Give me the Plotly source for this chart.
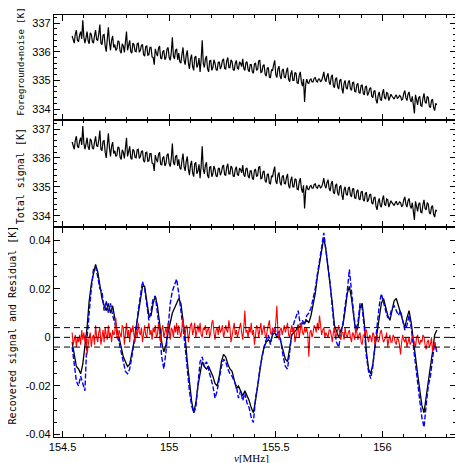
"""Foreground, total signal and recovered 21-cm signal vs frequency."""

import numpy as np
import plotly.graph_objects as go
from plotly.subplots import make_subplots

# frequency channels [MHz]
CHAN_START = 154.545
FINE_WIDTH = 0.005   # raw channels (foreground, residual)
COARSE_WIDTH = 0.01  # smoothed signal curves

# foreground + noise [K], one row per 0.05 MHz
foreground_noise = [
    336.55, 336.42, 336.30, 336.62, 336.75, 336.40, 336.35, 336.58, 336.70, 336.45,
    337.10, 336.52, 336.30, 336.48, 336.70, 336.38, 336.28, 336.66, 336.60, 336.35,
    336.30, 336.55, 336.75, 336.42, 336.40, 336.62, 336.95, 336.30, 336.25, 336.58,
    336.60, 336.20, 336.00, 336.45, 336.85, 336.35, 336.05, 336.40, 336.55, 336.15,
    336.25, 336.05, 336.10, 336.38, 336.35, 336.02, 335.95, 336.28, 336.20, 335.98,
    336.45, 336.70, 336.05, 336.22, 336.40, 336.00, 335.95, 336.30, 336.25, 336.02,
    336.00, 336.28, 336.30, 335.98, 336.05, 336.22, 336.25, 335.90, 335.85, 336.18,
    336.20, 335.88, 335.90, 336.15, 336.15, 335.82, 335.80, 335.55, 336.10, 335.95,
    335.85, 336.12, 336.20, 335.78, 335.75, 336.00, 336.05, 335.72, 335.80, 336.10,
    336.15, 335.80, 335.70, 335.98, 336.50, 335.85, 335.75, 336.05, 336.10, 335.72,
    335.95, 335.65, 335.60, 335.92, 336.15, 335.70, 335.55, 335.88, 336.05, 335.62,
    335.40, 335.75, 335.90, 335.48, 335.35, 335.80, 335.85, 335.45, 335.55, 335.78,
    335.30, 335.72, 336.40, 335.60, 335.45, 335.75, 335.85, 335.40, 335.30, 335.68,
    335.70, 335.35, 335.45, 335.72, 335.60, 335.38, 335.35, 335.62, 335.65, 335.40,
    335.50, 335.70, 335.75, 335.42, 335.40, 335.68, 335.80, 335.45, 335.45, 335.72,
    335.65, 335.38, 335.35, 335.60, 335.70, 335.42, 335.40, 335.65, 335.60, 335.48,
    335.75, 335.42, 335.35, 335.62, 335.65, 335.38, 335.30, 335.55, 335.55, 335.30,
    335.25, 335.58, 335.60, 335.35, 335.40, 335.68, 335.70, 335.28, 335.30, 335.52,
    335.55, 335.22, 335.15, 335.42, 335.45, 335.12, 335.10, 335.38, 335.35, 335.55,
    335.70, 335.20, 335.10, 335.40, 335.50, 335.15, 335.05, 335.35, 335.40, 335.12,
    335.10, 335.32, 335.45, 335.05, 334.95, 335.22, 335.35, 335.00, 335.00, 335.28,
    335.25, 334.92, 334.90, 335.18, 335.30, 334.95, 334.80, 335.05, 334.25, 334.85,
    335.05, 334.92, 334.90, 335.02, 335.05, 334.95, 334.95, 335.08, 335.10, 334.98,
    334.95, 335.05, 335.05, 334.95, 335.00, 335.12, 335.30, 335.05, 334.95, 335.15,
    335.25, 334.95, 334.85, 335.12, 335.20, 334.82, 334.75, 335.05, 335.10, 334.78,
    334.70, 335.00, 335.05, 334.72, 334.55, 334.90, 335.00, 334.75, 334.70, 334.95,
    335.00, 334.72, 334.65, 334.92, 334.95, 334.62, 334.60, 334.85, 334.90, 334.58,
    334.55, 334.82, 334.85, 334.55, 334.50, 334.78, 334.80, 334.48, 334.55, 334.72,
    334.75, 334.45, 334.40, 334.62, 334.65, 334.32, 334.20, 334.48, 334.60, 334.35,
    334.30, 334.55, 334.70, 334.40, 334.35, 334.58, 334.55, 334.30, 334.40, 334.52,
    334.45, 334.38, 334.35, 334.45, 334.50, 334.38, 334.40, 334.48, 334.45, 334.32,
    334.35, 334.55, 334.65, 334.40, 334.30, 334.52, 334.60, 334.35, 334.25, 334.45,
    334.20, 333.85, 334.50, 334.30, 334.15, 334.40, 334.45, 334.12, 334.10, 334.38,
    334.55, 334.25, 334.20, 334.45, 334.40, 334.10, 334.05, 334.30, 334.35, 334.05,
    333.95, 334.20, 334.15,
]
# total signal: foreground + noise + 21-cm signal (identical at this scale)
total_signal = list(foreground_noise)

# input 21-cm signal [K]
signal_in = [
    -0.002, -0.007, -0.012, -0.013, -0.015, -0.011, -0.004, 0.004, 0.015, 0.022,
    0.026, 0.030, 0.027, 0.021, 0.016, 0.013, 0.011, 0.014, 0.010, 0.013,
    0.008, 0.003, 0.000, -0.004, -0.008, -0.010, -0.012, -0.011, -0.007, -0.002,
    0.004, 0.010, 0.017, 0.021, 0.021, 0.015, 0.009, 0.009, 0.014, 0.017,
    0.013, 0.006, -0.002, -0.006, -0.003, 0.002, 0.006, 0.010, 0.012, 0.014,
    0.016, 0.014, 0.008, 0.000, -0.010, -0.019, -0.026, -0.031, -0.027, -0.020,
    -0.014, -0.010, -0.012, -0.013, -0.012, -0.014, -0.016, -0.019, -0.020, -0.016,
    -0.010, -0.007, -0.008, -0.011, -0.013, -0.014, -0.017, -0.021, -0.020, -0.022,
    -0.024, -0.022, -0.024, -0.026, -0.029, -0.031, -0.026, -0.019, -0.014, -0.008,
    -0.004, -0.002, -0.001, -0.002, 0.001, 0.002, 0.000, 0.001, -0.002, -0.006,
    -0.009, -0.010, -0.004, 0.001, 0.002, 0.003, 0.005, 0.004, 0.006, 0.006,
    0.007, 0.006, 0.009, 0.013, 0.018, 0.025, 0.031, 0.036, 0.041, 0.036,
    0.029, 0.023, 0.014, 0.005, 0.002, 0.000, 0.003, 0.005, 0.011, 0.018,
    0.021, 0.016, 0.009, 0.002, 0.004, 0.012, 0.014, 0.006, -0.006, -0.013,
    -0.015, -0.011, -0.004, 0.002, 0.008, 0.014, 0.016, 0.012, 0.009, 0.007,
    0.011, 0.015, 0.016, 0.013, 0.010, 0.006, 0.004, 0.008, 0.011, 0.006,
    -0.002, -0.008, -0.015, -0.022, -0.028, -0.031, -0.024, -0.018, -0.012, -0.006,
    0.001, 0.003,
]

# recovered signal [K]
signal_rec = [
    -0.004, -0.010, -0.018, -0.020, -0.016, -0.019, -0.022, 0.000, 0.012, 0.020,
    0.028, 0.029, 0.025, 0.020, 0.019, 0.011, 0.015, 0.010, 0.014, 0.009,
    0.006, 0.002, -0.002, -0.006, -0.011, -0.014, -0.015, -0.013, -0.008, -0.003,
    0.003, 0.011, 0.018, 0.023, 0.020, 0.013, 0.007, 0.011, 0.016, 0.017,
    0.011, 0.003, -0.008, -0.013, -0.006, 0.003, 0.014, 0.019, 0.022, 0.024,
    0.018, 0.012, 0.004, -0.004, -0.014, -0.022, -0.028, -0.031, -0.029, -0.018,
    -0.010, -0.008, -0.012, -0.010, -0.013, -0.017, -0.020, -0.025, -0.022, -0.017,
    -0.012, -0.009, -0.010, -0.013, -0.015, -0.016, -0.018, -0.020, -0.025, -0.022,
    -0.026, -0.023, -0.027, -0.029, -0.033, -0.035, -0.025, -0.020, -0.013, -0.008,
    -0.004, -0.001, 0.001, -0.003, 0.002, 0.004, 0.001, 0.003, -0.003, -0.008,
    -0.012, -0.013, -0.006, 0.002, 0.006, 0.009, 0.011, 0.005, 0.007, 0.005,
    0.009, 0.010, 0.012, 0.016, 0.020, 0.026, 0.031, 0.037, 0.043, 0.036,
    0.028, 0.022, 0.012, 0.003, -0.002, -0.004, 0.001, 0.006, 0.013, 0.019,
    0.028, 0.018, 0.010, 0.003, 0.006, 0.014, 0.012, 0.004, -0.008, -0.014,
    -0.017, -0.012, -0.003, 0.006, 0.013, 0.018, 0.014, 0.011, 0.008, 0.009,
    0.012, 0.013, 0.011, 0.009, 0.011, 0.007, 0.003, 0.005, 0.009, 0.004,
    -0.004, -0.010, -0.018, -0.026, -0.033, -0.037, -0.028, -0.020, -0.016, -0.008,
    -0.002, -0.006,
]

# residual [K], raw channels
residual = [
    0.002, -0.003, -0.001, 0.001, -0.004, 0.000, -0.002, 0.001, -0.003, 0.003,
    -0.001, 0.002, -0.002, 0.001, -0.007, -0.002, 0.000, 0.002, -0.004, 0.000,
    0.001, -0.003, 0.005, 0.000, -0.002, 0.002, 0.004, -0.003, 0.000, 0.003,
    -0.002, 0.004, 0.001, -0.001, 0.005, 0.000, 0.002, -0.002, 0.003, 0.001,
    0.002, 0.008, 0.000, -0.001, 0.003, 0.001, 0.000, 0.005, 0.004, -0.003,
    0.002, 0.006, 0.000, 0.003, -0.002, 0.004, 0.002, 0.005, 0.001, -0.002,
    0.003, 0.000, 0.006, 0.002, 0.001, 0.004, -0.002, 0.003, 0.005, 0.001,
    0.000, 0.004, 0.006, 0.001, 0.003, -0.001, 0.004, 0.002, 0.005, 0.000,
    0.001, 0.006, 0.003, -0.002, 0.003, 0.005, 0.000, 0.002, 0.004, 0.001,
    0.006, 0.003, -0.001, 0.004, 0.003, 0.000, 0.005, 0.002, 0.006, 0.001,
    0.005, 0.002, 0.000, 0.004, 0.008, 0.002, 0.001, 0.005, 0.004, -0.002,
    0.002, 0.005, 0.006, 0.001, 0.003, 0.006, 0.000, 0.003, 0.005, 0.002,
    0.006, 0.001, 0.000, 0.004, 0.003, 0.005, 0.001, 0.003, 0.004, 0.000,
    0.002, 0.006, 0.007, 0.002, -0.001, 0.003, 0.004, 0.001, 0.005, 0.002,
    0.003, 0.005, 0.000, 0.002, 0.005, 0.003, 0.002, 0.007, 0.004, -0.002,
    0.001, 0.004, 0.006, 0.001, 0.003, 0.000, 0.002, 0.005, 0.006, 0.002,
    -0.001, 0.004, 0.011, 0.002, 0.003, 0.000, 0.004, 0.002, 0.006, 0.001,
    0.003, -0.003, 0.002, 0.005, 0.004, 0.000, 0.003, 0.006, 0.001, 0.004,
    0.005, 0.001, 0.000, 0.003, 0.005, 0.007, 0.002, 0.001, 0.004, 0.003,
    0.002, 0.006, 0.013, 0.002, -0.001, 0.003, 0.004, 0.001, 0.003, 0.005,
    0.002, 0.005, 0.006, 0.001, 0.000, 0.003, 0.005, 0.002, 0.004, -0.002,
    0.001, 0.004, 0.005, 0.000, 0.003, 0.006, 0.002, 0.001, 0.004, 0.002,
    0.004, 0.001, -0.008, 0.002, 0.003, 0.000, 0.002, 0.005, 0.004, 0.002,
    0.006, 0.003, 0.009, 0.004, 0.001, 0.003, 0.004, 0.000, 0.002, 0.001,
    0.000, 0.003, 0.003, 0.001, -0.002, 0.002, 0.004, 0.000, 0.001, 0.003,
    0.005, 0.001, -0.001, 0.002, 0.002, -0.001, 0.004, 0.001, 0.000, 0.002,
    0.003, 0.000, -0.002, 0.002, 0.001, -0.001, 0.004, 0.002, -0.001, 0.001,
    0.002, -0.002, -0.003, 0.001, 0.001, 0.003, 0.003, 0.000, -0.002, 0.001,
    0.000, -0.002, 0.002, 0.001, -0.003, 0.000, 0.001, -0.002, -0.001, 0.002,
    0.003, 0.000, -0.002, -0.001, 0.000, 0.002, -0.004, -0.001, 0.001, -0.002,
    -0.002, 0.001, 0.000, -0.002, -0.003, 0.000, -0.001, -0.003, -0.007, -0.002,
    0.001, -0.001, -0.002, 0.000, -0.004, -0.002, 0.000, -0.003, -0.002, 0.001,
    -0.001, -0.003, -0.004, 0.000, 0.001, -0.002, -0.003, -0.001, -0.002, 0.001,
    0.000, -0.003, -0.005, -0.002, -0.001, -0.004, -0.003, 0.000, -0.006, -0.003,
    -0.002, -0.005, -0.004,
]

noise_level = 0.004  # dashed +/- band in bottom panel

freq_fine = np.round(CHAN_START + FINE_WIDTH * np.arange(len(foreground_noise)), 4)
freq_res = np.round(CHAN_START + FINE_WIDTH * np.arange(len(residual)), 4)
freq_coarse = np.round(CHAN_START + COARSE_WIDTH * np.arange(len(signal_in)), 4)

X_RANGE = [154.46, 156.345]
TICK_FONT = {"family": "Liberation Sans, Arial", "size": 11, "color": "black"}
TITLE_FONT = {"family": "DejaVu Sans Mono, monospace", "size": 10, "color": "black"}

fig = make_subplots(
    rows=3,
    cols=1,
    shared_xaxes=True,
    vertical_spacing=0,
    row_heights=[0.249, 0.254, 0.497],
)

fig.add_trace(
    go.Scatter(x=freq_fine, y=foreground_noise, mode="lines",
               line={"color": "black", "width": 1.2}),
    row=1, col=1,
)
fig.add_trace(
    go.Scatter(x=freq_fine, y=total_signal, mode="lines",
               line={"color": "black", "width": 1.2}),
    row=2, col=1,
)
fig.add_trace(
    go.Scatter(x=freq_coarse, y=signal_in, mode="lines",
               line={"color": "black", "width": 1.3}),
    row=3, col=1,
)
fig.add_trace(
    go.Scatter(x=freq_coarse, y=signal_rec, mode="lines",
               line={"color": "#0000ff", "width": 1.4, "dash": "5px,2px"}),
    row=3, col=1,
)
fig.add_trace(
    go.Scatter(x=freq_res, y=residual, mode="lines",
               line={"color": "#ff0000", "width": 1.1}),
    row=3, col=1,
)

for level in (noise_level, 0, -noise_level):
    fig.add_shape(
        type="line", xref="x3 domain", yref="y3",
        x0=0, x1=1, y0=level, y1=level,
        line={"color": "black", "width": 1, "dash": "6px,4px"},
        layer="above",
    )

axis_style = {
    "showline": True,
    "linecolor": "black",
    "linewidth": 1.3,
    "mirror": "allticks",
    "ticks": "inside",
    "ticklen": 6,
    "tickwidth": 1,
    "tickcolor": "black",
    "showgrid": False,
    "zeroline": False,
    "tickfont": TICK_FONT,
}

for r in (1, 2, 3):
    fig.update_xaxes(
        range=X_RANGE,
        tickvals=[154.5, 155, 155.5, 156],
        ticktext=["154.5", "155", "155.5", "156"],
        minor={"dtick": 0.1, "tick0": 154.5, "ticklen": 3, "ticks": "inside",
               "tickcolor": "black"},
        row=r, col=1,
        **axis_style,
    )

fig.update_yaxes(
    range=[333.62, 337.28], tickvals=[334, 335, 336, 337],
    minor={"dtick": 0.2, "tick0": 334, "ticklen": 3, "ticks": "inside",
           "tickcolor": "black"},
    row=1, col=1, **axis_style,
)
fig.update_yaxes(
    range=[333.6, 337.31], tickvals=[334, 335, 336, 337],
    minor={"dtick": 0.2, "tick0": 334, "ticklen": 3, "ticks": "inside",
           "tickcolor": "black"},
    row=2, col=1, **axis_style,
)
fig.update_yaxes(
    range=[-0.041, 0.0453],
    tickvals=[-0.04, -0.02, 0, 0.02, 0.04],
    ticktext=["-0.04", "-0.02", "0", "0.02", "0.04"],
    minor={"dtick": 0.005, "tick0": 0, "ticklen": 3, "ticks": "inside",
           "tickcolor": "black"},
    row=3, col=1, **axis_style,
)

# axis titles: text, panel, x (paper), y (panel domain), size
y_titles = [
    ("Foreground+noise [K]", "y domain", -0.084, 0.557, 9),
    ("Total signal [K]", "y2 domain", -0.084, 0.477, 10),
    ("Recovered signal and Residual [K]", "y3 domain", -0.104, 0.533, 10),
]
for text, yref, xpos, ypos, size in y_titles:
    fig.add_annotation(
        text=text, xref="paper", yref=yref, x=xpos, y=ypos,
        textangle=-90, showarrow=False, xanchor="center", yanchor="middle",
        font={**TITLE_FONT, "size": size},
    )
fig.add_annotation(
    text="<i>ν</i>[MHz]", xref="paper", yref="paper", x=0.492, y=-0.05,
    showarrow=False, xanchor="center", yanchor="middle",
    font={"family": "Liberation Serif, serif", "size": 11, "color": "black"},
)

# margins offset by the few pixels the page itself adds
fig.update_layout(
    width=463,
    height=463,
    showlegend=False,
    margin={"l": 46, "r": 15, "t": 7, "b": 34},
    paper_bgcolor="white",
    plot_bgcolor="white",
)

fig.write_html("out.html")
